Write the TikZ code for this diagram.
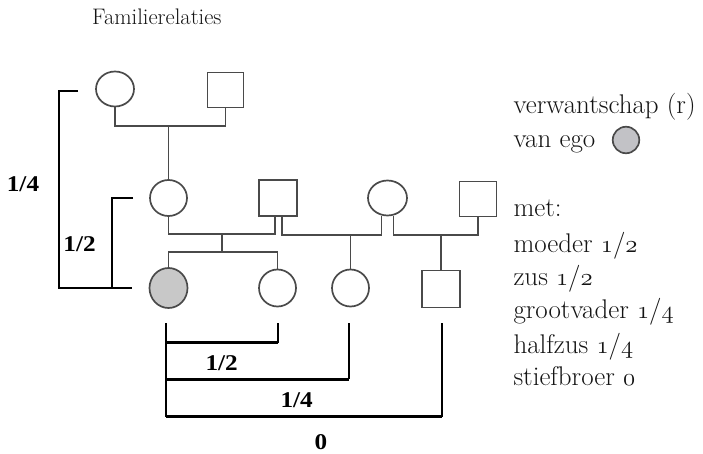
\documentclass[tikz,border=0pt]{standalone}
\usepackage{fontspec}
\newfontfamily\boldserif{Liberation Serif}
\usetikzlibrary{shapes.geometric}
\newcommand{\osn}[1]{{\usefont{OML}{cmm}{m}{it}#1}}
\definecolor{ped}{HTML}{4A4A4A}
\definecolor{egofill}{HTML}{C8C8C8}
\definecolor{legfill}{HTML}{C2C2C6}
\tikzset{
  female/.style={ellipse,draw=ped,line width=1.7bp,inner sep=0pt},
  male/.style={rectangle,draw=ped,line width=1.7bp,inner sep=0pt},
  pline/.style={draw=ped,line width=1.7bp},
  brk/.style={draw=black,line width=2.5bp},
  blabel/.style={font=\boldserif\bfseries\fontsize{22.5bp}{22.5bp}\selectfont,xscale=1.12,inner sep=0pt},
  rtext/.style={anchor=base west,inner sep=0pt,font=\fontsize{27bp}{32bp}\selectfont,text=black!92},
}
\begin{document}
\begin{tikzpicture}[x=1bp,y=-1bp]
\useasboundingbox (0,0) rectangle (703,454);
% title
\node[rtext,font=\fontsize{22.5bp}{26bp}\selectfont] (title) at (92,25) {Familierelaties};
% persons
\node[female,minimum width=38bp,minimum height=35bp] (gm) at (115,89) {};
\node[male,minimum width=36bp,minimum height=35bp] (gf) at (225.5,90) {};
\node[female,minimum width=37bp,minimum height=36bp] (mo) at (168.5,198) {};
\node[male,minimum width=38bp,minimum height=36bp] (fa) at (278,198) {};
\node[female,minimum width=39bp,minimum height=35bp] (sm) at (387.5,198) {};
\node[male,minimum width=37bp,minimum height=35bp] (sf) at (478,199) {};
\node[female,fill=egofill,minimum width=38bp,minimum height=40bp] (ego) at (168.5,288) {};
\node[female,minimum width=37bp,minimum height=37bp] (sis) at (277.5,288) {};
\node[female,minimum width=37bp,minimum height=37bp] (hs) at (350.5,288) {};
\node[male,minimum width=38bp,minimum height=37bp] (sb) at (441,289) {};
% grandparents
\coordinate (gpl) at (168.5,126);
\draw[pline] (gm.south) |- (gpl) -| (gf.south);
\draw[pline] (gpl) -- (mo.north);
% mother - father
\coordinate (fal) at ([xshift=-3bp]fa.south);
\coordinate (far) at ([xshift=4bp]fa.south);
\coordinate (sml) at ([xshift=-6bp]sm.south);
\coordinate (smr) at ([xshift=6bp]sm.south);
\coordinate (mfl) at (221.7,234);
\coordinate (fsl) at (350.5,235);
\coordinate (ssl) at (441,235);
\draw[pline] (mo.south) |- (mfl) -| (fal);
\draw[pline] (far) |- (fsl) -| (sml);
\draw[pline] (smr) |- (ssl) -| (sf.south);
% children
\coordinate (sibl) at (221.7,252);
\draw[pline] (mfl) -- (sibl);
\draw[pline] (ego.north) |- (sibl) -| (sis.north);
\draw[pline] (fsl) -- (hs.north);
\draw[pline] (ssl) -- (sb.north);
% left brackets
\coordinate (bt1) at (78,91);
\coordinate (bt1c) at (59,91);
\coordinate (bb1) at (59,288);
\coordinate (bb1e) at (132,288);
\draw[brk] (bt1) -- (bt1c) -- (bb1) -- (bb1e);
\coordinate (bt2) at (133,198);
\coordinate (bt2c) at (112,198);
\coordinate (bb2) at (112,288);
\draw[brk] (bt2) -- (bt2c) -- (bb2);
\node[blabel] (l14) at (23,184) {1/4};
\node[blabel] (l12) at (79.5,244) {1/2};
% bottom brackets
\coordinate (e0) at (166,323);
\coordinate (e3) at (166,416.5);
\coordinate (s0) at (278.3,323);
\coordinate (s1) at (278.3,342.7);
\coordinate (h0) at (349.3,323);
\coordinate (h1) at (349.3,379.3);
\coordinate (b0) at (441.7,323);
\coordinate (b1) at (441.7,416.5);
\draw[brk,line width=1.9bp] (e0) -- (e3);
\draw[brk,line width=1.9bp] (s0) -- (s1);
\draw[brk,line width=1.9bp] (h0) -- (h1);
\draw[brk,line width=1.9bp] (b0) -- (b1);
\draw[brk] (166,342.7) -- (s1);
\draw[brk] (166,379.3) -- (h1);
\draw[brk] (e3) -- (b1);
\node[blabel] (m12) at (221.7,362.7) {1/2};
\node[blabel] (m14) at (296.7,400) {1/4};
\node[blabel] (m0) at (321,441.7) {0};
% legend text
\node[rtext] (t1) at (513.3,114) {verwantschap (r)};
\node[rtext] (t2) at (513.3,147.3) {van ego};
\node[female,fill=legfill,minimum width=26.5bp,minimum height=26.5bp] (leg) at (626,140) {};
\node[rtext] (t3) at (513.3,216.7) {met:};
\node[rtext] (t4) at (513.3,252.7) {moeder \osn{1}/\osn{2}};
\node[rtext] (t5) at (513.3,286) {zus \osn{1}/\osn{2}};
\node[rtext] (t6) at (513.3,318.3) {grootvader \osn{1}/\osn{4}};
\node[rtext] (t7) at (513.3,353.3) {halfzus \osn{1}/\osn{4}};
\node[rtext] (t8) at (513.3,385.5) {stiefbroer \osn{0}};
\end{tikzpicture}
\end{document}
